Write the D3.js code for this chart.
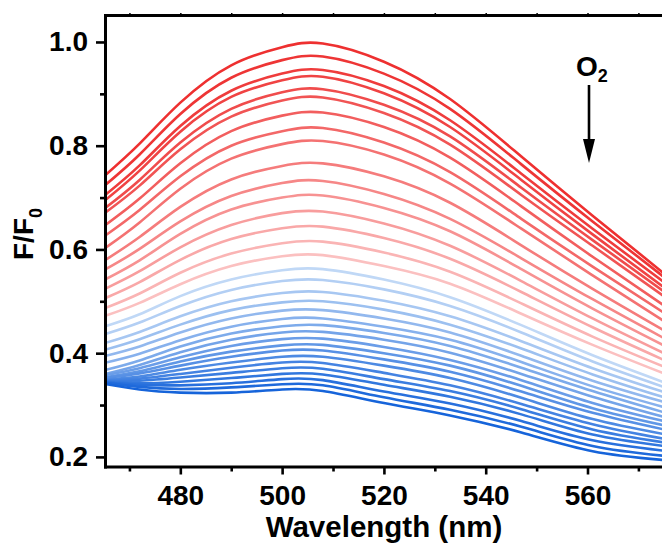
<!DOCTYPE html>
<html>
<head>
<meta charset="utf-8">
<script src="https://cdn.jsdelivr.net/npm/d3@7"></script>
<style>
  html, body { margin: 0; padding: 0; background: #fff; }
  svg { display: block; }
  text { font-family: "Liberation Sans", Arial, sans-serif; font-weight: bold; fill: #000; }
</style>
</head>
<body>
<svg id="chart" width="662" height="544"></svg>
<script>
// ---- data ----
const wavelengths = [465, 472, 480, 490, 500, 508, 520, 533, 547, 561, 575];
// F/F0 spectra, from highest (no O2) to lowest (most O2)
const spectra = [
  [0.741, 0.804, 0.883, 0.955, 0.990, 0.997, 0.962, 0.890, 0.779, 0.665, 0.554],
  [0.722, 0.783, 0.861, 0.931, 0.965, 0.972, 0.939, 0.871, 0.764, 0.654, 0.547],
  [0.703, 0.762, 0.838, 0.906, 0.939, 0.946, 0.915, 0.849, 0.746, 0.640, 0.537],
  [0.693, 0.752, 0.827, 0.894, 0.926, 0.933, 0.901, 0.836, 0.734, 0.629, 0.527],
  [0.678, 0.734, 0.806, 0.871, 0.903, 0.909, 0.879, 0.818, 0.719, 0.618, 0.519],
  [0.669, 0.723, 0.793, 0.856, 0.887, 0.893, 0.863, 0.802, 0.705, 0.607, 0.510],
  [0.645, 0.698, 0.766, 0.828, 0.858, 0.864, 0.836, 0.777, 0.683, 0.586, 0.492],
  [0.625, 0.676, 0.741, 0.800, 0.828, 0.834, 0.806, 0.749, 0.659, 0.567, 0.478],
  [0.601, 0.652, 0.717, 0.775, 0.803, 0.809, 0.783, 0.727, 0.640, 0.550, 0.462],
  [0.578, 0.624, 0.682, 0.735, 0.761, 0.766, 0.741, 0.690, 0.608, 0.524, 0.444],
  [0.560, 0.601, 0.654, 0.703, 0.728, 0.732, 0.707, 0.659, 0.583, 0.504, 0.429],
  [0.541, 0.579, 0.630, 0.677, 0.700, 0.704, 0.680, 0.635, 0.562, 0.486, 0.415],
  [0.523, 0.558, 0.604, 0.647, 0.670, 0.673, 0.650, 0.607, 0.539, 0.467, 0.400],
  [0.505, 0.537, 0.580, 0.620, 0.641, 0.644, 0.622, 0.582, 0.518, 0.450, 0.387],
  [0.486, 0.515, 0.555, 0.592, 0.612, 0.615, 0.594, 0.557, 0.496, 0.432, 0.374],
  [0.471, 0.497, 0.533, 0.568, 0.587, 0.589, 0.568, 0.534, 0.476, 0.416, 0.361],
  [0.451, 0.475, 0.510, 0.542, 0.560, 0.562, 0.542, 0.508, 0.454, 0.396, 0.344],
  [0.436, 0.459, 0.491, 0.522, 0.539, 0.541, 0.523, 0.491, 0.440, 0.384, 0.335],
  [0.419, 0.441, 0.471, 0.500, 0.516, 0.518, 0.501, 0.471, 0.423, 0.371, 0.325],
  [0.406, 0.427, 0.455, 0.483, 0.498, 0.500, 0.484, 0.455, 0.409, 0.359, 0.315],
  [0.394, 0.413, 0.440, 0.467, 0.482, 0.483, 0.467, 0.440, 0.395, 0.347, 0.306],
  [0.381, 0.399, 0.425, 0.451, 0.466, 0.467, 0.451, 0.426, 0.383, 0.336, 0.296],
  [0.367, 0.386, 0.413, 0.438, 0.452, 0.454, 0.439, 0.414, 0.372, 0.327, 0.286],
  [0.359, 0.377, 0.402, 0.426, 0.440, 0.441, 0.426, 0.401, 0.360, 0.316, 0.277],
  [0.357, 0.371, 0.392, 0.414, 0.427, 0.428, 0.412, 0.387, 0.348, 0.304, 0.269],
  [0.353, 0.365, 0.384, 0.403, 0.415, 0.416, 0.400, 0.376, 0.337, 0.294, 0.261],
  [0.352, 0.361, 0.376, 0.393, 0.405, 0.405, 0.388, 0.364, 0.326, 0.285, 0.253],
  [0.349, 0.355, 0.368, 0.382, 0.393, 0.393, 0.376, 0.352, 0.314, 0.273, 0.244],
  [0.347, 0.351, 0.360, 0.372, 0.382, 0.381, 0.362, 0.338, 0.302, 0.263, 0.235],
  [0.346, 0.347, 0.353, 0.362, 0.371, 0.370, 0.350, 0.327, 0.292, 0.253, 0.228],
  [0.345, 0.342, 0.345, 0.352, 0.360, 0.359, 0.339, 0.316, 0.282, 0.243, 0.221],
  [0.344, 0.339, 0.338, 0.342, 0.350, 0.348, 0.326, 0.303, 0.269, 0.232, 0.212],
  [0.343, 0.335, 0.331, 0.334, 0.340, 0.338, 0.315, 0.291, 0.258, 0.221, 0.202],
  [0.341, 0.330, 0.324, 0.324, 0.330, 0.327, 0.304, 0.280, 0.247, 0.211, 0.194]
];
const redCount = 16; // first 16 spectra drawn in reds, the rest in blues
const xMajorTicks = [480, 500, 520, 540, 560];
const xMinorTicks = [470, 490, 510, 530, 550, 570];
const yMajorTicks = [0.2, 0.4, 0.6, 0.8, 1.0];
const yMinorTicks = [0.3, 0.5, 0.7, 0.9];
const xTitle = "Wavelength (nm)";
const annotation = "O";

// ---- layout ----
const svg = d3.select("#chart");
const mLeft = 105, mTop = 15, mBottom = 466.5, mRight = 689.3;
const x = d3.scaleLinear().domain([465.2, 580]).range([mLeft, mRight]);
const y = d3.scaleLinear().domain([0.1815, 1.052]).range([mBottom, mTop]);

const blueCount = spectra.length - redCount;
function color(i) {
  if (i < redCount) {
    const t = i / (redCount - 1);
    return d3.interpolateRgb("rgb(238,48,48)", "rgb(251,192,192)")(Math.pow(t, 1.25));
  }
  const t = (i - redCount) / (blueCount - 1);
  return d3.interpolateRgb("rgb(192,216,246)", "rgb(22,100,218)")(Math.pow(t, 0.9));
}

svg.append("defs").append("clipPath").attr("id", "plotclip")
  .append("rect").attr("x", mLeft).attr("y", mTop).attr("width", 662 - mLeft).attr("height", mBottom - mTop);

const line = d3.line()
  .x((d, i) => x(wavelengths[i]))
  .y(d => y(d))
  .curve(d3.curveNatural);

svg.append("g").attr("clip-path", "url(#plotclip)")
  .selectAll("path").data(spectra).join("path")
  .attr("d", d => line(d))
  .attr("fill", "none")
  .attr("stroke", (d, i) => color(i))
  .attr("stroke-width", 2.6)
  .attr("stroke-linejoin", "round");

// ---- axes ----
function styleAxis(g) {
  g.selectAll(".domain").attr("stroke", "#000").attr("stroke-width", 3).attr("stroke-linecap", "square");
  g.selectAll(".tick line").attr("stroke", "#000").attr("stroke-width", 2.6);
}
const fontFam = '"Liberation Sans", Arial, sans-serif';

const yAxisG = svg.append("g").attr("transform", `translate(${mLeft},0)`)
  .call(d3.axisLeft(y).tickValues(yMajorTicks).tickSize(9).tickSizeOuter(0).tickPadding(8).tickFormat(d3.format(".1f")));
styleAxis(yAxisG);
yAxisG.selectAll("text").attr("font-size", 28).style("font-family", fontFam).style("font-weight", "bold").attr("fill", "#000");
const yMinorG = svg.append("g").attr("transform", `translate(${mLeft},0)`)
  .call(d3.axisLeft(y).tickValues(yMinorTicks).tickSize(5).tickFormat(""));
yMinorG.select(".domain").remove();
styleAxis(yMinorG);

const xAxisG = svg.append("g").attr("transform", `translate(0,${mBottom})`)
  .call(d3.axisBottom(x).tickValues(xMajorTicks).tickSize(8).tickSizeOuter(0).tickPadding(10.5).tickFormat(d3.format("d")));
styleAxis(xAxisG);
xAxisG.selectAll("text").attr("font-size", 28).style("font-family", fontFam).style("font-weight", "bold").attr("fill", "#000");
const xMinorG = svg.append("g").attr("transform", `translate(0,${mBottom})`)
  .call(d3.axisBottom(x).tickValues(xMinorTicks).tickSize(5).tickFormat(""));
xMinorG.select(".domain").remove();
styleAxis(xMinorG);

const topG = svg.append("g").attr("transform", `translate(0,${mTop})`)
  .call(d3.axisTop(x).tickValues(xMajorTicks.concat(xMinorTicks)).tickSize(2).tickSizeOuter(0).tickFormat(""));
styleAxis(topG);
topG.selectAll(".tick line").attr("stroke-width", 1.5);

// ---- titles ----
svg.append("text")
  .attr("x", 384).attr("y", 536.5)
  .attr("text-anchor", "middle").attr("font-size", 29.5)
  .text(xTitle);

const yt = svg.append("text")
  .attr("transform", "translate(33,234) rotate(-90)")
  .attr("text-anchor", "middle").attr("font-size", 28);
yt.append("tspan").text("F/F");
yt.append("tspan").attr("font-size", 18).attr("dy", 9).text("0");

// ---- O2 annotation with arrow ----
const ann = svg.append("text").attr("x", 576).attr("y", 75.5).attr("font-size", 28);
ann.append("tspan").text(annotation);
ann.append("tspan").attr("font-size", 18).attr("dy", 6).text("2");

svg.append("line")
  .attr("x1", 589).attr("x2", 589).attr("y1", 85).attr("y2", 145)
  .attr("stroke", "#000").attr("stroke-width", 2.6);
svg.append("path")
  .attr("d", "M583,139 L595,139 L589,163 Z")
  .attr("fill", "#000");
</script>
</body>
</html>
